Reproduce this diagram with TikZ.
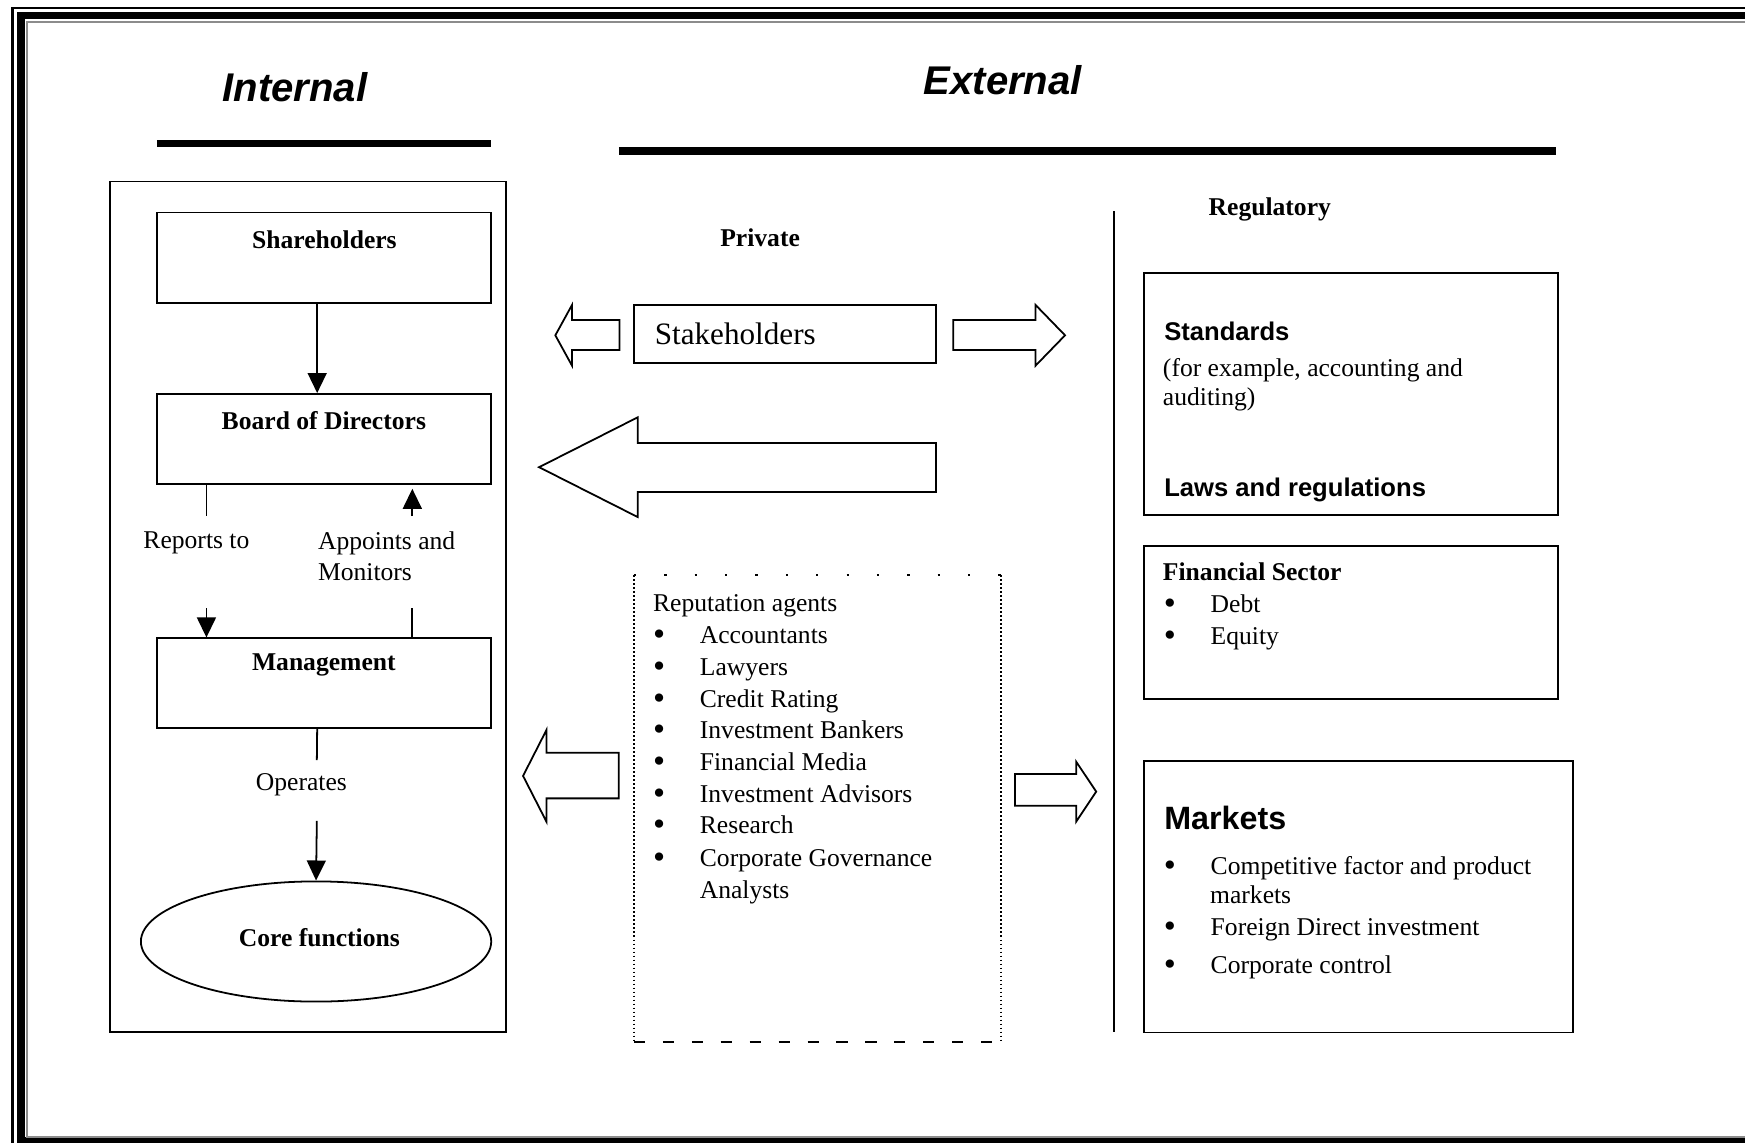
\documentclass[tikz,border=0pt]{standalone}
\usepackage{fontspec}
\setmainfont{Liberation Serif}
\newfontfamily\arialfont{Liberation Sans}
\usepackage{tikz}
\usetikzlibrary{positioning,fit,arrows.meta,shapes.geometric}

\newcommand{\blt}{\makebox[21pt][l]{\raisebox{-0.9pt}{\fontsize{15.5}{14}\selectfont\textbullet}}}

\tikzset{
  box/.style={draw, line width=0.8pt, inner sep=0pt},
  txt/.style={inner sep=0pt, font=\fontsize{11.5}{14}\selectfont},
  lbl/.style={inner sep=0pt, font=\fontsize{11.5}{14}\selectfont\bfseries},
  sanslbl/.style={inner sep=0pt, font=\arialfont\fontsize{11.5}{14}\selectfont\bfseries},
  heading/.style={inner sep=0pt, font=\arialfont\fontsize{18}{22}\selectfont\bfseries\itshape},
  arr/.style={-{Triangle[width=8.5pt,length=9pt]}, line width=0.8pt},
  fat/.style={draw, line width=0.8pt, line join=miter, fill=white},
}

\begin{document}
\begin{tikzpicture}[x=0.5pt,y=-0.5pt]
	\useasboundingbox (0,0) rectangle (1568,1027);
	\clip (0,0) rectangle (1568,1027);
	\draw[line width=1pt] (11.2,1100) -- (11.2,7) -- (1600,7);
	\draw[line width=3.5pt] (18.7,1100) -- (18.7,14) -- (1600,14);
	\draw[line width=3.5pt] (18.7,1025.5) -- (1600,1025.5);
	\draw[black!45,line width=0.9pt] (1600,1021.5) -- (24.5,1021.5) -- (24.5,19.5) -- (1600,19.5);

	\node[heading] (int) at (265,78) {Internal};
	\node[heading] (ext) at (901,72) {External};
	\draw[line width=3.3pt] (141,129) -- (441,129);
	\draw[line width=3.5pt] (556,136) -- (1398,136);

	\node[box, fit={(99,163) (455,927)}] (inbox) {};
	\node[box, fit={(141,191) (441,272)}] (sh) {};
	\node[box, fit={(141,354) (441,435)}] (bd) {};
	\node[box, fit={(141,573.6) (441,654.4)}] (mg) {};
	\node[lbl] (shtxt) at (291.5,215) {Shareholders};
	\node[lbl] (bdtxt) at (291,378) {Board of Directors};
	\node[lbl] (mgtxt) at (291,597.6) {Management};
	\node[box, ellipse, minimum width=157.4pt, minimum height=54pt] (core) at (284,846) {};
	\node[lbl] (coretxt) at (287,842.6) {Core functions};

	\draw[arr] ([xshift=-3pt]sh.south) -- ([xshift=-3pt]bd.north);
	\node[txt] (rep) at (176.5,488) {Reports to};
	\coordinate (rtop) at (185.5,463.7);
	\coordinate (rbot) at (185.5,546.6);
	\draw[line width=0.8pt] (bd.south -| rtop) -- (rtop);
	\draw[arr] (rbot) -- (mg.north -| rbot);
	\node[txt, align=left, anchor=west] (apm) at (285.4,500) {Appoints and\\Monitors};
	\coordinate (atop) at (370.5,463.7);
	\coordinate (abot) at (370.5,546.6);
	\draw[arr] (atop) -- ([yshift=-1.7pt]bd.south -| atop);
	\draw[line width=0.8pt] (mg.north -| abot) -- (abot);
	\node[txt] (op) at (270.8,705.5) {Operates};
	\coordinate (otop) at (284.7,683);
	\coordinate (obot) at (284.7,737.7);
	\draw[line width=0.8pt] ([xshift=-3pt]mg.south) -- (otop);
	\draw[arr] (obot) -- (core.north);

	\node[lbl] (priv) at (683,214) {Private};
	\node[box, fit={(570,274) (841,326)}] (stk) {};
	\node[txt, anchor=west, font=\fontsize{14}{17}\selectfont] (stktxt) at (588,300) {Stakeholders};
	\draw[fat] (556.7,287.5) -- (514,287.5) -- (514,274) -- (499,301.3) -- (514,328.6) -- (514,314.5) -- (556.7,314.5) -- cycle;
	\draw[fat] (856.5,287.5) -- (930.5,287.5) -- (930.5,274) -- (957,301.3) -- (930.5,328.6) -- (930.5,314.5) -- (856.5,314.5) -- cycle;
	\draw[fat] (841,398) -- (573,398) -- (573,375) -- (484.4,419.8) -- (573,464.6) -- (573,442) -- (841,442) -- cycle;
	\draw[fat] (556,676.3) -- (491,676.3) -- (491,656) -- (470,697.2) -- (491,738.3) -- (491,717.4) -- (556,717.4) -- cycle;
	\draw[fat] (912,695.5) -- (967,695.5) -- (967,684.4) -- (985,711.3) -- (967,738.3) -- (967,724) -- (912,724) -- cycle;

	\node[fit={(570,517) (899,936)}, inner sep=0pt] (rb) {};
	\draw[line width=0.8pt, dash pattern=on 1pt off 12.65pt] (rb.north west) -- (rb.north east);
	\draw[line width=0.6pt, dash pattern=on 5pt off 8pt] (rb.south west) -- (rb.south east);
	\draw[line width=0.8pt, densely dotted] (rb.north west) -- (rb.south west);
	\draw[line width=0.8pt, densely dotted] (rb.north east) -- (rb.south east);
	\node[txt, anchor=base west] (ra0) at (586.5,549.3) {Reputation agents};
	\node[txt, anchor=base west] (ra1) at (586.5,578.3) {\blt Accountants};
	\node[txt, anchor=base west] (ra2) at (586.5,606.8) {\blt Lawyers};
	\node[txt, anchor=base west] (ra3) at (586.5,635.3) {\blt Credit Rating};
	\node[txt, anchor=base west] (ra4) at (586.5,663.8) {\blt Investment Bankers};
	\node[txt, anchor=base west] (ra5) at (586.5,692.3) {\blt Financial Media};
	\node[txt, anchor=base west] (ra6) at (586.5,720.8) {\blt Investment Advisors};
	\node[txt, anchor=base west] (ra7) at (586.5,749.3) {\blt Research};
	\node[txt, anchor=base west] (ra8) at (586.5,778.3) {\blt Corporate Governance};
	\node[txt, anchor=base west] (ra9) at (628.4,807) {Analysts};

	\draw[line width=0.9pt] (1001,190) -- (1001,927);
	\node[lbl] (reg) at (1141,188) {Regulatory};
	\node[box, fit={(1028,245.6) (1399.6,462.8)}] (std) {};
	\node[sanslbl, anchor=west] (stdtxt) at (1045.8,297.5) {Standards};
	\node[txt, anchor=west] (ex1) at (1044.6,332.6) {(for example, accounting and};
	\node[txt, anchor=west] (ex2) at (1044.6,358.9) {auditing)};
	\node[sanslbl, anchor=west] (laws) at (1045.8,439.8) {Laws and regulations};
	\node[box, fit={(1028,490.4) (1399.6,628)}] (fin) {};
	\node[lbl, anchor=west] (fintxt) at (1044.6,514) {Financial Sector};
	\node[txt, anchor=base west] (debt) at (1045.5,550.5) {\blt Debt};
	\node[txt, anchor=base west] (eq) at (1045.5,579) {\blt Equity};
	\node[box, fit={(1028,684) (1413.6,927.8)}] (mkt) {};
	\node[sanslbl, anchor=west, font=\arialfont\fontsize{14.5}{17}\selectfont\bfseries] (mkttxt) at (1045.8,735) {Markets};
	\node[txt, anchor=base west] (m1) at (1045.5,785.5) {\blt Competitive factor and product};
	\node[txt, anchor=base west] (m1b) at (1087,811.5) {markets};
	\node[txt, anchor=base west] (m2) at (1045.5,841) {\blt Foreign Direct investment};
	\node[txt, anchor=base west] (m3) at (1045.5,875) {\blt Corporate control};
\end{tikzpicture}
\end{document}
